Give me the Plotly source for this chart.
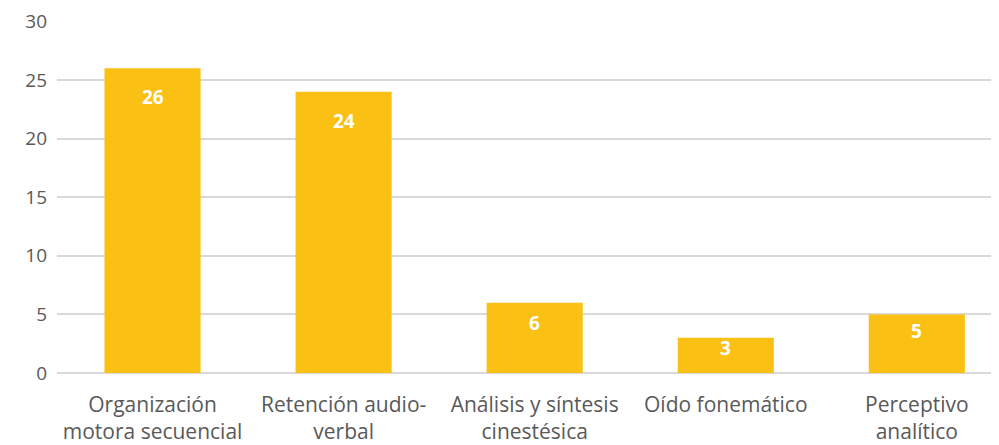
import plotly.graph_objects as go

categorias = [
    "Organización<br>motora secuencial",
    "Retención audio-<br>verbal",
    "Análisis y síntesis<br>cinestésica",
    "Oído fonemático",
    "Perceptivo<br>analítico",
]
valores = [26, 24, 6, 3, 5]
ticks_y = [0, 5, 10, 15, 20, 25, 30]

GRIS = "#595959"
DORADO = "#FBC014"

fig = go.Figure()

fig.add_trace(go.Bar(
    x=categorias, y=valores,
    marker=dict(color=DORADO, line=dict(width=0)),
    hoverinfo="x+y",
))

# Etiquetas dentro de la barra, cerca del extremo superior
alto_px = 352  # alto del área de trazado
for cat, v in zip(categorias, valores):
    px_barra = v * alto_px / 30
    fig.add_annotation(
        x=cat, y=v, text=f"<b>{v}</b>", showarrow=False,
        yanchor="middle", yshift=-min(29, 0.29 * px_barra),
        font=dict(family="Open Sans", size=19, color="white"),
    )

# el body de la página tiene 8px de margen
fig.update_layout(
    width=991, height=437,
    margin=dict(l=49, r=0, t=13, b=72),
    paper_bgcolor="white", plot_bgcolor="white",
    bargap=0.497,
    showlegend=False,
    font=dict(family="Open Sans", color=GRIS, size=19),
    xaxis=dict(
        range=[-0.5, 4.43],
        showgrid=False, showline=False, ticks="",
        tickfont=dict(size=21, color=GRIS),
        ticklabelstandoff=17,
        automargin=False,
    ),
    yaxis=dict(
        range=[0, 30.03], tickvals=ticks_y,
        showgrid=True, gridcolor="#D9D9D9", gridwidth=1.5,
        zeroline=True, zerolinecolor="#D9D9D9", zerolinewidth=1.5,
        showline=False, ticks="",
        tickfont=dict(size=19, color=GRIS),
        ticklabelstandoff=9,
        automargin=False,
    ),
)

fig.write_html("out.html")
